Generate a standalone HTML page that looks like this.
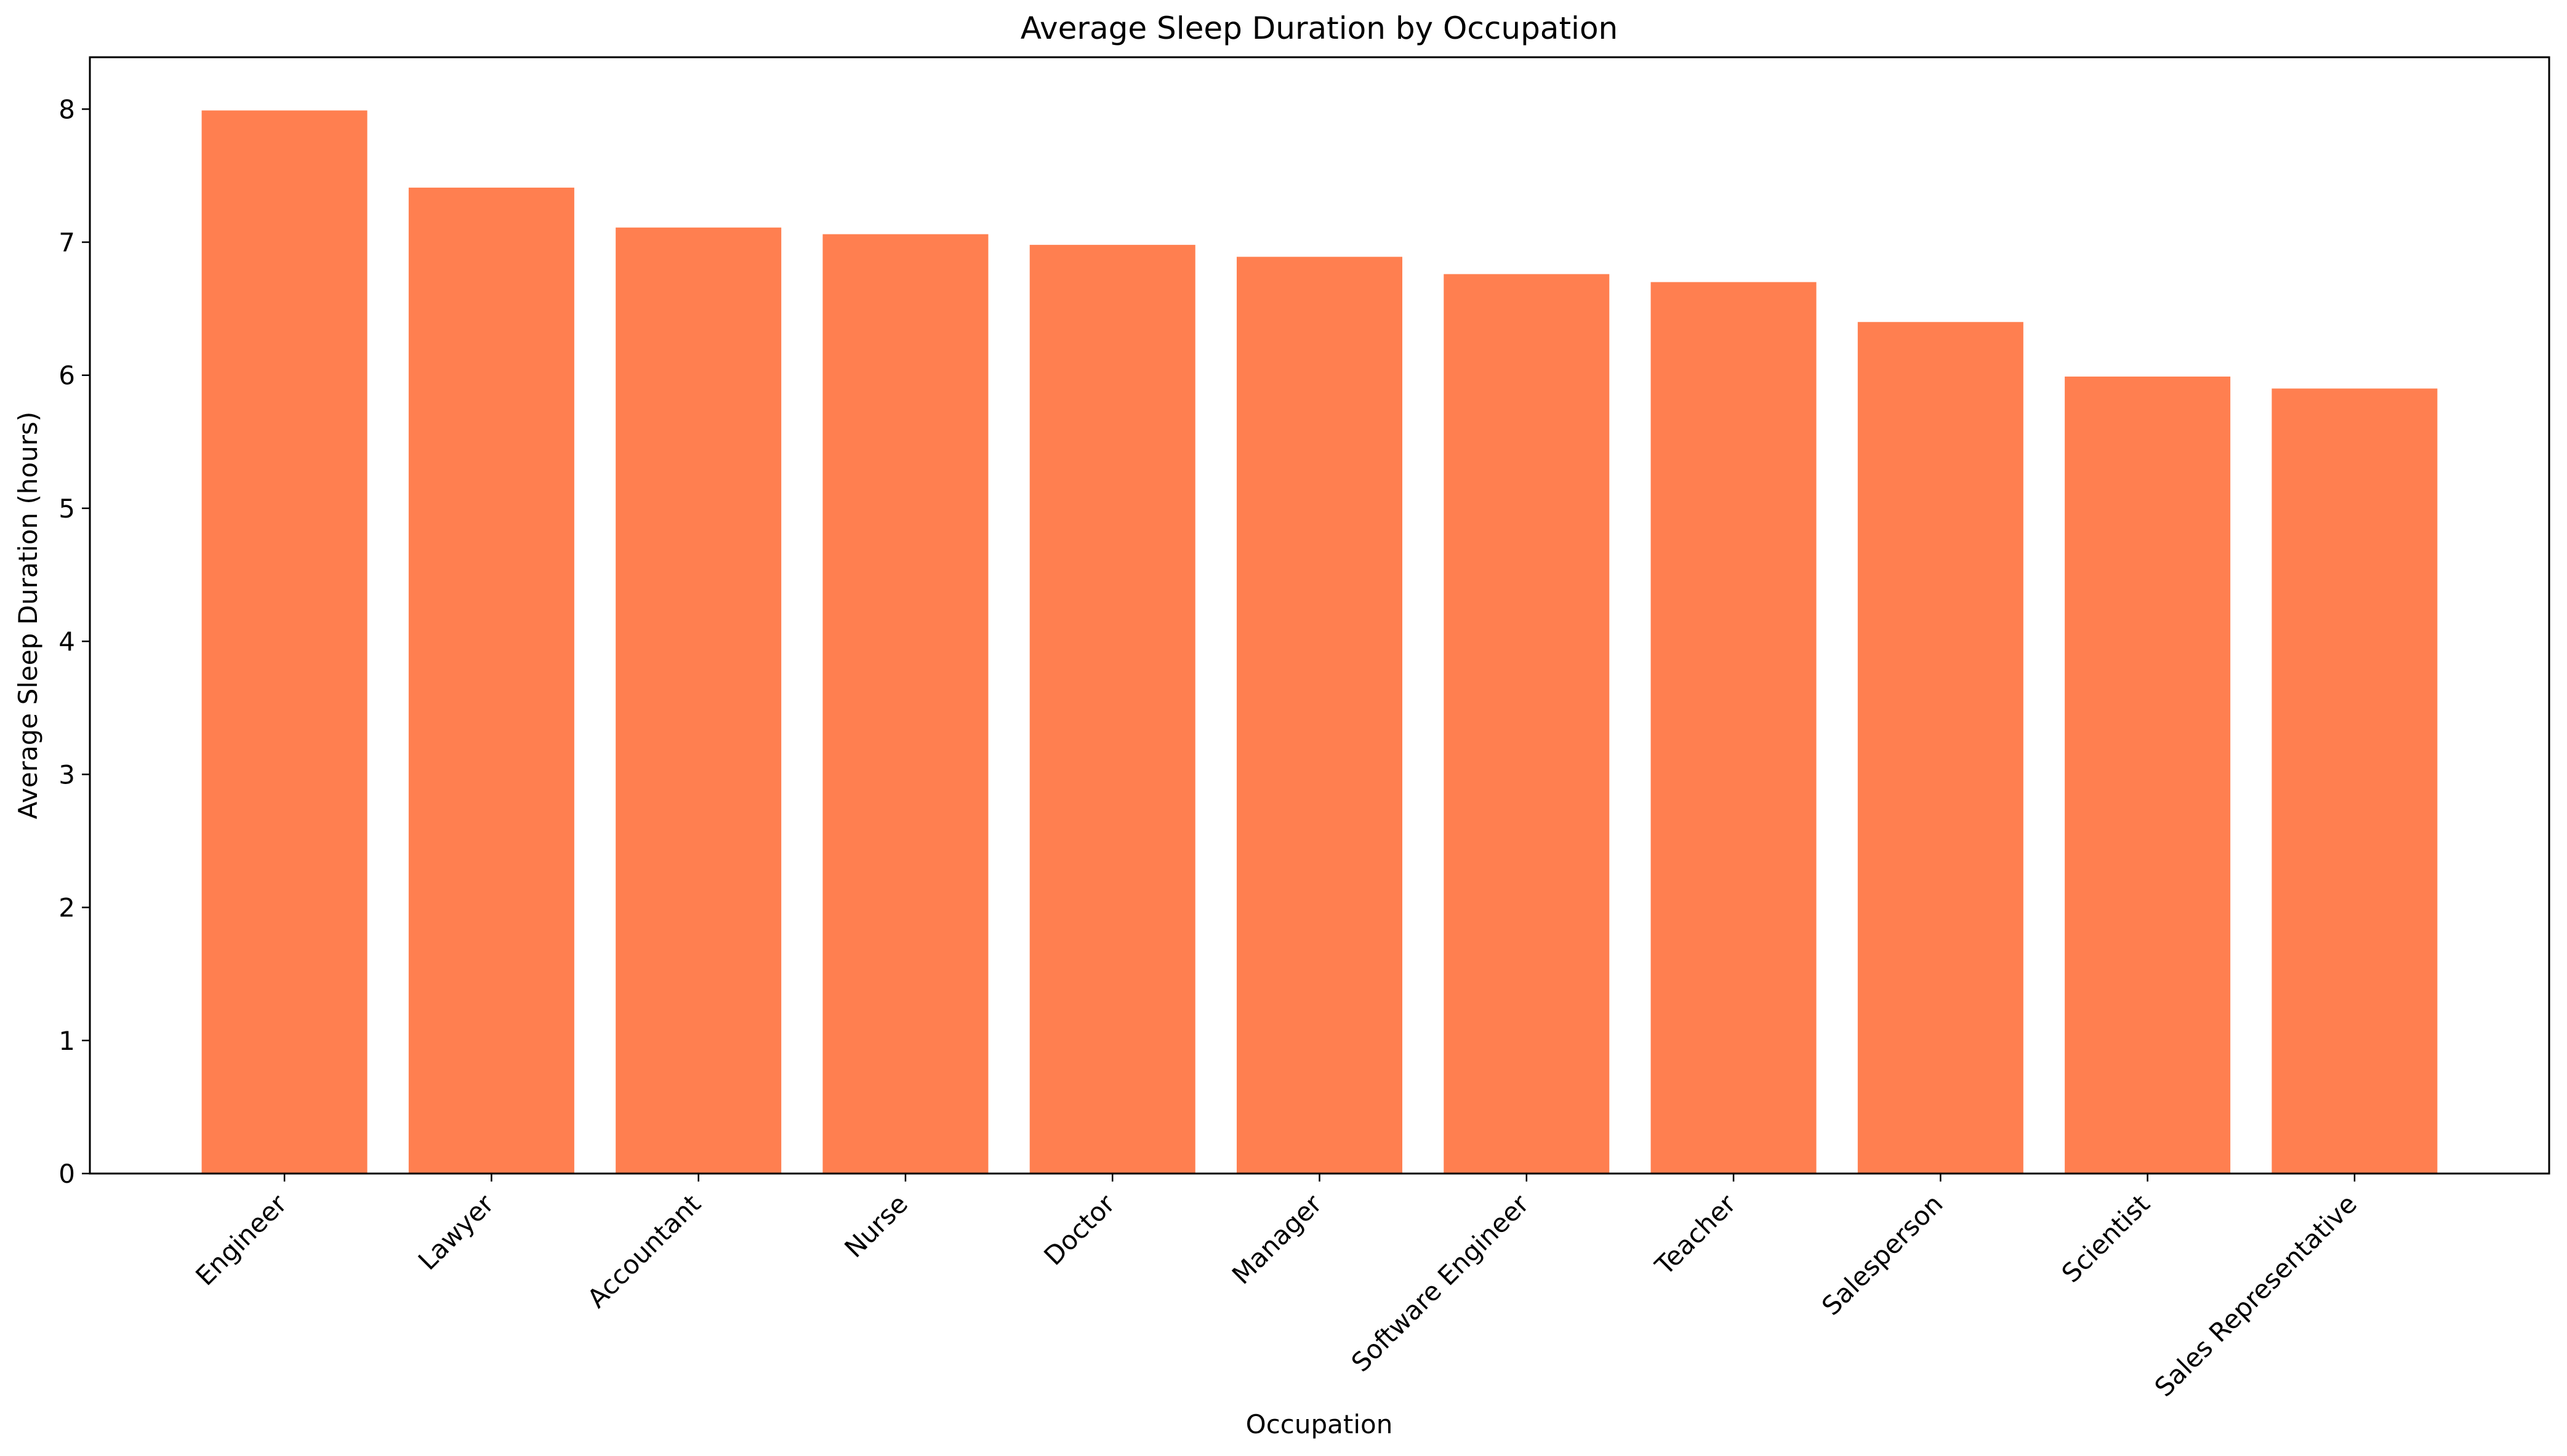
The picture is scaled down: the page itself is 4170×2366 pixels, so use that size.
<!DOCTYPE html>
<html><head><meta charset="utf-8"><style>
html,body{margin:0;padding:0;background:#fff;}
svg{display:block;font-family:"DejaVu Sans","Liberation Sans",sans-serif;}
</style></head><body>
<svg id="chart" width="4170" height="2366" viewBox="0 0 4170 2366" xmlns="http://www.w3.org/2000/svg">
<rect x="0" y="0" width="4170" height="2366" fill="#fff"/>
<text x="2143" y="63" font-size="50" text-anchor="middle">Average Sleep Duration by Occupation</text>
<text x="2143" y="2329" font-size="42" text-anchor="middle">Occupation</text>
<text transform="translate(60,1000) rotate(-90)" font-size="42" text-anchor="middle">Average Sleep Duration (hours)</text>
<g id="bars"></g>
<g id="yticks"></g>
<g id="xticks"></g>
<rect x="146" y="93" width="3995" height="1814" fill="none" stroke="#000" stroke-width="3"/>
</svg>
<script>
const categories = ["Engineer","Lawyer","Accountant","Nurse","Doctor","Manager","Software Engineer","Teacher","Salesperson","Scientist","Sales Representative"];
const values = [7.99,7.41,7.11,7.06,6.98,6.89,6.76,6.70,6.40,5.99,5.90];
const yTicks = [0,1,2,3,4,5,6,7,8];

const NS = "http://www.w3.org/2000/svg";
const L = 146, R = 4141, T = 93, B = 1907;
const yMax = 8.39;
const xMin = -0.94, xMax = categories.length - 1 + 0.94;
function xs(i){ return L + (i - xMin) / (xMax - xMin) * (R - L); }
function ys(v){ return B - v / yMax * (B - T); }
const bw = 0.8 * (R - L) / (xMax - xMin);

const gb = document.getElementById('bars');
values.forEach((v, i) => {
  const r = document.createElementNS(NS, 'rect');
  r.setAttribute('x', xs(i) - bw / 2);
  r.setAttribute('y', ys(v));
  r.setAttribute('width', bw);
  r.setAttribute('height', B - ys(v));
  r.setAttribute('fill', '#FF7F50');
  
  
  gb.appendChild(r);
});

const gy = document.getElementById('yticks');
yTicks.forEach(t => {
  const y = ys(t);
  const ln = document.createElementNS(NS, 'line');
  ln.setAttribute('x1', L - 13); ln.setAttribute('x2', L);
  ln.setAttribute('y1', y); ln.setAttribute('y2', y);
  ln.setAttribute('stroke', '#000'); ln.setAttribute('stroke-width', '2.5');
  
  
  gy.appendChild(ln);
  const tx = document.createElementNS(NS, 'text');
  tx.setAttribute('x', L - 24); tx.setAttribute('y', y + 15);
  tx.setAttribute('font-size', '42'); tx.setAttribute('text-anchor', 'end');
  tx.textContent = String(t);
  
  
  gy.appendChild(tx);
});

const gx = document.getElementById('xticks');
categories.forEach((c, i) => {
  const x = xs(i);
  const ln = document.createElementNS(NS, 'line');
  ln.setAttribute('x1', x); ln.setAttribute('x2', x);
  ln.setAttribute('y1', B); ln.setAttribute('y2', B + 13);
  ln.setAttribute('stroke', '#000'); ln.setAttribute('stroke-width', '2.5');
  
  
  gx.appendChild(ln);
  const tx = document.createElementNS(NS, 'text');
  const ax = x - 16, ay = B + 30;
  tx.setAttribute('transform', 'translate(' + ax + ',' + ay + ') rotate(-45)');
  tx.setAttribute('font-size', '42'); tx.setAttribute('text-anchor', 'end');
  tx.setAttribute('dominant-baseline', 'hanging');
  tx.textContent = c;
  
  
  gx.appendChild(tx);
});
</script>
</body></html>
